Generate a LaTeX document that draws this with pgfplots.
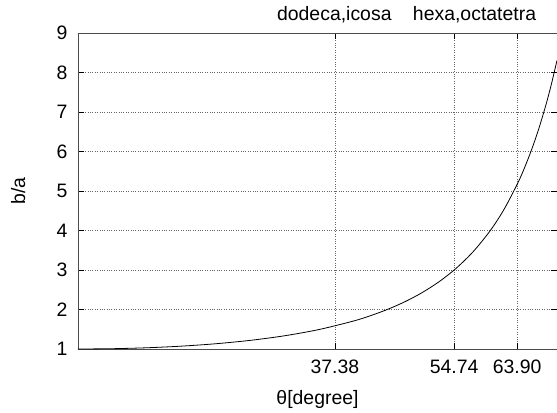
\documentclass[border=0pt]{standalone}
\usepackage{pgfplots}
\pgfplotsset{compat=1.18}
\usepackage{fontspec}
\setmainfont{Liberation Sans}
\begin{document}
\fontsize{19.5}{22}\selectfont
\begin{tikzpicture}
\begin{axis}[
  name=main,
  scale only axis,
  width=479bp, height=316bp,
  xmin=0, xmax=69.7, ymin=1, ymax=9,
  xtick={37.38,54.74,63.90},
  xticklabels={37.38,54.74,63.90},
  ytick={1,2,3,4,5,6,7,8,9},
  /pgf/number format/assume math mode=true,
  tick label style={font=\fontsize{19.5}{22}\selectfont},
  label style={font=\fontsize{19.5}{22}\selectfont},
  tick align=inside,
  major tick length=6bp,
  tick style={black, line width=0.6pt},
  axis line style={black!70, line width=0.8pt},
  grid=major,
  grid style={black!60, dotted, line width=0.6pt},
  xlabel={θ[degree]},
  ylabel={b/a},
  xticklabel style={yshift=-4bp},
  yticklabel style={xshift=-4bp},
  xlabel style={yshift=-4bp},
  ylabel style={yshift=18bp},
  clip mode=individual,
]
\addplot[black, line width=0.8pt, smooth] coordinates {
(0,1) (5,1.00766) (10,1.03109) (15,1.07180) (20,1.13247) (25,1.21744)
(30,1.33333) (35,1.49029) (40,1.70409) (42.5,1.83966) (45,2) (47.5,2.19095)
(50,2.42028) (52.5,2.69838) (55,3.03961) (57.5,3.46391) (60,4) (62,4.53716)
(64,5.20373) (65,5.5989) (66,6.04468) (67,6.55003) (68,7.12593) (68.5,7.4448)
(69,7.78636) (69.7,8.3078)
};
\node[anchor=base, font=\fontsize{19.5}{22}\selectfont] at (axis cs:37.3,9) [yshift=13bp] {dodeca,icosa};
\node[anchor=base, font=\fontsize{19.5}{22}\selectfont] at (axis cs:57.7,9) [yshift=13bp] {hexa,octatetra};
\end{axis}
\pgfresetboundingbox
\useasboundingbox (main.south west) ++(-78bp,-64bp) rectangle ++(557bp,413bp);
\end{tikzpicture}
\end{document}
